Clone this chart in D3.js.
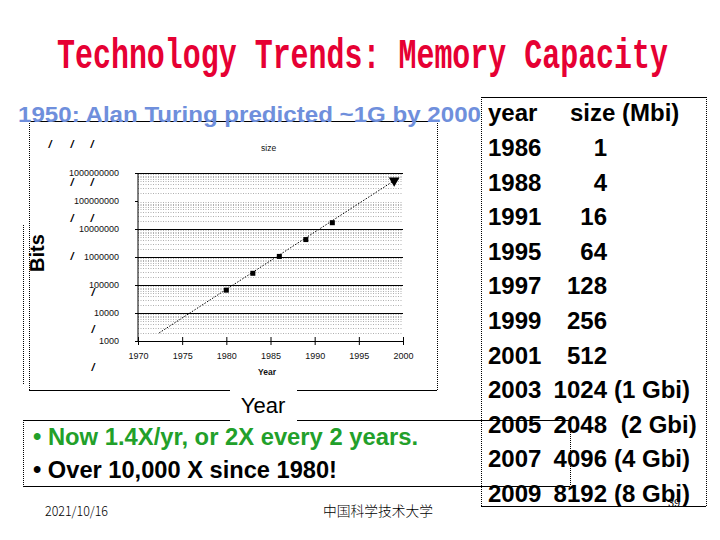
<!DOCTYPE html>
<html><head><meta charset="utf-8">
<script src="https://cdn.jsdelivr.net/npm/d3@7"></script>
<style>html,body{margin:0;padding:0;background:#fff;} svg{display:block;}</style>
</head><body><svg id="c" width="720" height="540"></svg>
<script>
// ---- data ----
const chartYears = [1980, 1983, 1986, 1989, 1992];
const chartBits = [65536, 262144, 1048576, 4194304, 16777216];
const endYears = [1999];
const endBits = [536870912];
const trendYears = [1972.4, 1999];
const trendBits = [1950, 536870912];
const xTicks = [1970, 1975, 1980, 1985, 1990, 1995, 2000];
const yTicks = [1e3, 1e4, 1e5, 1e6, 1e7, 1e8, 1e9];
const yTickLabels = ["1000", "10000", "100000", "1000000", "10000000", "100000000", "1000000000"];
const majorGrid = [1e4, 1e5, 1e6, 1e7, 1e9];
const tableYears = ["1986","1988","1991","1995","1997","1999","2001","2003","2005","2007","2009"];
const tableSizes = ["1","4","16","64","128","256","512","1024","2048","4096","8192"];
const tableNotes = ["","","","","","","","(1 Gbi)"," (2 Gbi)","(4 Gbi)","(8 Gbi)"];
const bullets = ["• Now 1.4X/yr, or 2X every 2 years.", "• Over 10,000 X since 1980!"];

const svg = d3.select("#c");
const SANS = "'Liberation Sans', Arial, sans-serif";

// ---- scales ----
const x = d3.scaleLinear().domain([1970, 2000]).range([138, 403]);
const y = d3.scaleLog().domain([1e3, 1e9]).range([341, 173]);

// ---- title ----
svg.append("text").attr("x", 57).attr("y", 68)
  .attr("textLength", 611).attr("lengthAdjust", "spacingAndGlyphs")
  .style("font-family", "'Liberation Mono', 'Courier New', monospace")
  .style("font-weight", "bold").style("font-size", "42px").attr("fill", "#e60033")
  .text("Technology Trends: Memory Capacity");

// ---- chart box ----
const box = svg.append("g").attr("stroke", "#000").attr("fill", "none");
box.append("line").attr("x1", 29).attr("x2", 437).attr("y1", 121.5).attr("y2", 121.5);
box.append("line").attr("x1", 29).attr("x2", 437).attr("y1", 390.5).attr("y2", 390.5);
box.append("line").attr("x1", 29.5).attr("x2", 29.5).attr("y1", 121).attr("y2", 390).attr("stroke-dasharray", "1,1");
box.append("line").attr("x1", 437.5).attr("x2", 437.5).attr("y1", 121).attr("y2", 390).attr("stroke-dasharray", "1,1");
box.append("line").attr("x1", 23.5).attr("x2", 23.5).attr("y1", 225).attr("y2", 385).attr("stroke-dasharray", "1,1");

// minor grid
const minor = [];
for (let d = 3; d < 9; d++) for (let k = 2; k <= 9; k++) minor.push(k * Math.pow(10, d));
svg.append("g").selectAll("line").data(minor).join("line")
  .attr("x1", x(1970)).attr("x2", x(2000))
  .attr("y1", d => Math.round(y(d)) + 0.5).attr("y2", d => Math.round(y(d)) + 0.5)
  .attr("stroke", "#b0b0b0").attr("stroke-dasharray", "1,1.5");
// major grid
svg.append("g").selectAll("line").data(majorGrid).join("line")
  .attr("x1", x(1970) - 3).attr("x2", x(2000))
  .attr("y1", d => Math.round(y(d)) + 0.5).attr("y2", d => Math.round(y(d)) + 0.5)
  .attr("stroke", "#000");

// axes
const xAxis = d3.axisBottom(x).tickValues(xTicks).tickSize(4).tickPadding(8).tickFormat(d3.format("d"));
const gx = svg.append("g").attr("transform", `translate(0,${y(1e3)})`).call(xAxis);
gx.selectAll(".tick line").attr("y1", -4);
gx.selectAll("text").style("font-family", SANS).style("font-size", "9px").attr("fill", "#111");
const yAxis = d3.axisLeft(y).tickValues(yTicks).tickSize(3).tickPadding(16)
  .tickFormat((d, i) => yTickLabels[i]);
const gy = svg.append("g").attr("transform", `translate(${x(1970)},0)`).call(yAxis);
gy.select(".domain").attr("d", `M0,${y(1e9)}V${y(1e3)}`);
gy.selectAll("text").style("font-family", SANS).style("font-size", "9px").attr("fill", "#111");

// trend line
svg.append("path").datum(trendYears.map((t, i) => [t, trendBits[i]]))
  .attr("d", d3.line().x(d => x(d[0])).y(d => y(d[1])))
  .attr("fill", "none").attr("stroke", "#000").attr("stroke-dasharray", "1.5,1.5");
// markers
svg.append("g").selectAll("rect").data(chartYears).join("rect")
  .attr("x", (d) => x(d) - 2.5).attr("y", (d, i) => y(chartBits[i]) - 2.5)
  .attr("width", 5).attr("height", 5).attr("fill", "#000");
svg.append("g").selectAll("path").data(endYears).join("path")
  .attr("d", d3.symbol(d3.symbolTriangle, 50))
  .attr("transform", (d, i) => `translate(${x(d)},${y(endBits[i])}) rotate(180)`)
  .attr("fill", "#000");

// small labels
svg.append("text").attr("x", 261).attr("y", 151).style("font-family", SANS).style("font-size", "8.5px").attr("fill", "#111").text("size");
svg.append("text").attr("x", 258).attr("y", 375).style("font-family", SANS).style("font-size", "8.5px").style("font-weight", "bold").attr("fill", "#111").text("Year");

// slash artifacts
const slashes = [[50,144],[72,144],[92,144],[72,182],[92,182],[72,218],[92,218],[72,256],[93,292],[93,329],[93,367]];
svg.append("g").selectAll("text").data(slashes).join("text")
  .attr("x", d => d[0]).attr("y", d => d[1] + 4).attr("text-anchor", "middle")
  .style("font-family", SANS).style("font-size", "11px").style("font-weight", "bold").style("font-style", "italic")
  .text("/");

// Bits label
svg.append("text").attr("transform", "translate(44,253) rotate(-90)").attr("text-anchor", "middle")
  .style("font-family", SANS).style("font-size", "20px").style("font-weight", "bold").text("Bits");

// subtitle
svg.append("text").attr("x", 18).attr("y", 122).attr("textLength", 463).attr("lengthAdjust", "spacingAndGlyphs")
  .style("font-family", SANS).style("font-size", "22px").style("font-weight", "bold").attr("fill", "#6f8fdc")
  .text("1950: Alan Turing predicted ~1G by 2000");

// ---- table ----
const tb = svg.append("g").attr("stroke", "#000").attr("fill", "none");
tb.append("line").attr("x1", 481).attr("x2", 706).attr("y1", 97.5).attr("y2", 97.5);
tb.append("line").attr("x1", 481).attr("x2", 706).attr("y1", 506.5).attr("y2", 506.5);
tb.append("line").attr("x1", 481.5).attr("x2", 481.5).attr("y1", 97).attr("y2", 506).attr("stroke-dasharray", "1,1");
tb.append("line").attr("x1", 706.5).attr("x2", 706.5).attr("y1", 97).attr("y2", 506).attr("stroke-dasharray", "1,1");

const tt = svg.append("g").style("font-family", SANS).style("font-size", "24px").style("font-weight", "bold").attr("fill", "#000");
tt.append("text").attr("x", 488).attr("y", 121).text("year");
tt.append("text").attr("x", 570).attr("y", 121).text("size (Mbi)");
const rowY = i => 156 + i * 34.6;
tt.selectAll(".yr").data(tableYears).join("text").attr("class", "yr")
  .attr("x", 488).attr("y", (d, i) => rowY(i)).text(d => d);
tt.selectAll(".sz").data(tableSizes).join("text").attr("class", "sz")
  .attr("x", 607).attr("y", (d, i) => rowY(i)).attr("text-anchor", "end").text(d => d);
tt.selectAll(".nt").data(tableNotes).join("text").attr("class", "nt")
  .attr("x", 614).attr("y", (d, i) => rowY(i)).style("white-space", "pre").text(d => d);

svg.append("text").attr("x", 668).attr("y", 507).style("font-family", SANS).style("font-size", "11px").text("39");

// ---- bullet box ----
const bb = svg.append("g").attr("stroke", "#000").attr("fill", "none");
bb.append("line").attr("x1", 23).attr("x2", 570).attr("y1", 420.5).attr("y2", 420.5);
bb.append("line").attr("x1", 23).attr("x2", 570).attr("y1", 486.5).attr("y2", 486.5);
bb.append("line").attr("x1", 23.5).attr("x2", 23.5).attr("y1", 420).attr("y2", 486).attr("stroke-dasharray", "1,1");
bb.append("line").attr("x1", 570.5).attr("x2", 570.5).attr("y1", 420).attr("y2", 486).attr("stroke-dasharray", "1,1");

// Year label with white backing
svg.append("rect").attr("x", 230).attr("y", 386).attr("width", 67).attr("height", 38).attr("fill", "#fff");
svg.append("text").attr("x", 263).attr("y", 413).attr("text-anchor", "middle")
  .style("font-family", SANS).style("font-size", "22px").text("Year");

const bl = svg.append("g").style("font-family", SANS).style("font-size", "23px").style("font-weight", "bold");
bl.append("text").attr("x", 33).attr("y", 445).attr("textLength", 385).attr("lengthAdjust", "spacingAndGlyphs")
  .attr("fill", "#22a02a").text(bullets[0]);
bl.append("text").attr("x", 33).attr("y", 478).attr("textLength", 304).attr("lengthAdjust", "spacingAndGlyphs")
  .attr("fill", "#000").text(bullets[1]);

// footer
svg.append("text").attr("x", 45).attr("y", 516).attr("textLength", 63).attr("lengthAdjust", "spacingAndGlyphs")
  .style("font-family", "'Noto Sans CJK SC', sans-serif").style("font-size", "13px").style("font-weight", "300").text("2021/10/16");
svg.append("text").attr("x", 323).attr("y", 516).attr("textLength", 110).attr("lengthAdjust", "spacingAndGlyphs")
  .style("font-family", "'Noto Sans CJK SC', sans-serif").style("font-size", "13.5px").style("font-weight", "300").text("中国科学技术大学");
</script></body></html>
